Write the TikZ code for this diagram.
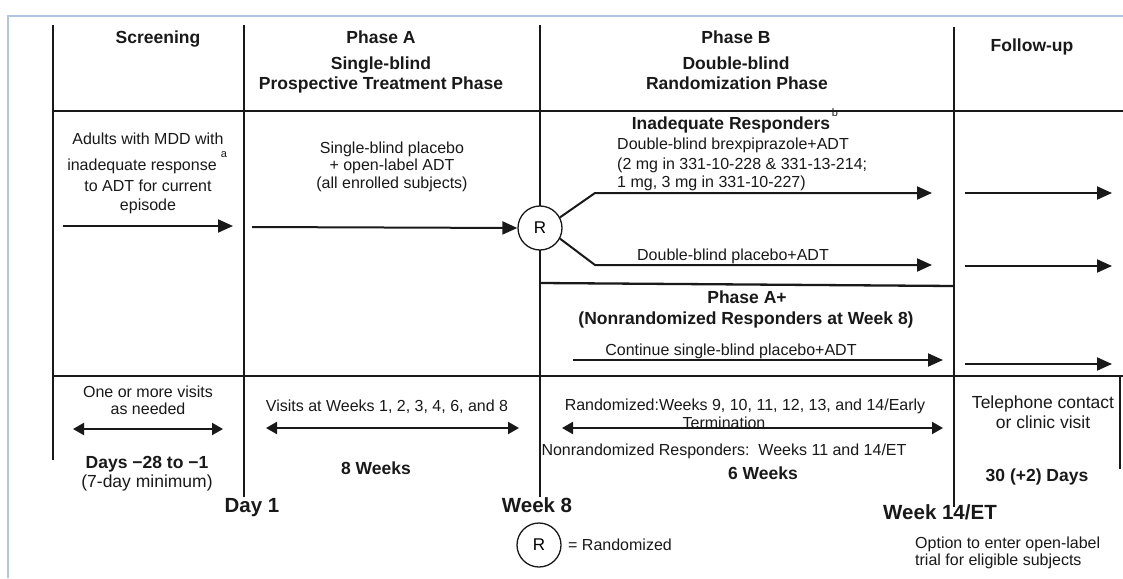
\documentclass[tikz,border=0pt]{standalone}
\usepackage{fontspec}
\setmainfont{Liberation Sans}
\usetikzlibrary{arrows.meta}
\definecolor{frameblue}{RGB}{175,198,228}
\definecolor{ink}{RGB}{25,25,25}
\begin{document}
\begin{tikzpicture}[x=1pt,y=-1pt,
  grid/.style={line width=2.3pt, ink},
  flow/.style={line width=2pt, ink, -{Triangle[length=15pt,width=13pt]}},
  span/.style={line width=2pt, ink, {Triangle[length=11pt,width=12pt]}-{Triangle[length=11pt,width=12pt]}},
  hb/.style={font=\fontsize{17.5}{20}\selectfont\bfseries, inner sep=0pt, anchor=base, text=ink},
  tx/.style={font=\fontsize{16}{19}\selectfont, inner sep=0pt, anchor=base, text=ink},
  tl/.style={font=\fontsize{17.5}{20}\selectfont, inner sep=0pt, anchor=base, text=ink},
  big/.style={font=\fontsize{20.5}{24}\selectfont\bfseries, inner sep=0pt, anchor=base, text=ink},
  sup/.style={font=\fontsize{11}{12}\selectfont, inner sep=0pt, text=ink},
  rc/.style={circle, draw=ink, line width=1.3pt, fill=white, minimum size=44pt, inner sep=0pt, font=\fontsize{17}{19}\selectfont},
]
\useasboundingbox (0,0) rectangle (1123,578);
\fill[white] (0,0) rectangle (1123,578);
\draw[frameblue, line width=2pt] (8,578) -- (8,16) -- (1123,16);

% grid coordinates
\coordinate (v1t) at (53,25);  \coordinate (v1b) at (53,460);
\coordinate (v2t) at (244,25); \coordinate (v2b) at (244,497);
\coordinate (v3t) at (540,25); \coordinate (v3b) at (540,497);
\coordinate (v4t) at (954,27); \coordinate (v4b) at (954,507);
\coordinate (h1l) at (53,111); \coordinate (h1r) at (1123,111);
\coordinate (h2l) at (53,376); \coordinate (h2r) at (1123,376);
\coordinate (h3l) at (540,283); \coordinate (h3r) at (954,286);
\coordinate (v5t) at (1120,377); \coordinate (v5b) at (1120,469);

\draw[grid] (v1t) -- (v1b);
\draw[grid] (v2t) -- (v2b);
\draw[grid] (v3t) -- (v3b);
\draw[grid] (v4t) -- (v4b);
\draw[grid] (h1l) -- (h1r);
\draw[grid] (h2l) -- (h2r);
\draw[grid] (h3l) -- (h3r);
\draw[grid] (v5t) -- (v5b);

% header
\node[hb] (hs) at (158,44) {Screening};
\node[hb] (ha1) at (381,44) {Phase A};
\node[hb] (ha2) at (381,69) {Single-blind};
\node[hb] (ha3) at (381,89) {Prospective Treatment Phase};
\node[hb] (hbb1) at (736,44) {Phase B};
\node[hb] (hbb2) at (736,69) {Double-blind};
\node[hb] (hbb3) at (737,89) {Randomization Phase};
\node[hb] (hf) at (1032,52) {Follow-up};

% screening column
\node[tx] (s1) at (148,144) {Adults with MDD with};
\node[tx] (s2) at (142,170) {inadequate response};
\node[sup] (sa) at (224,155) {a};
\node[tx] (s3) at (148,191) {to ADT for current};
\node[tx] (s4) at (148,210) {episode};

% phase A column
\node[tx] (a1) at (392,153) {Single-blind placebo};
\node[tx] (a2) at (392,170) {+ open-label ADT};
\node[tx] (a3) at (392,188) {(all enrolled subjects)};

% randomization node
\node[rc] (R) at (540,228) {R};

% flows
\coordinate (f1s) at (63,226);  \coordinate (f1e) at (233,226);
\coordinate (f2s) at (252,227);
\draw[flow] (f1s) -- (f1e);
\draw[flow] (f2s) -- (R.west);

% phase B
\node[hb] (ir) at (731,129) {Inadequate Responders};
\node[sup] (sb) at (835,113) {b};
\node[tx, anchor=base west] (b1) at (617,149) {Double-blind brexpiprazole+ADT};
\node[tx, anchor=base west] (b2) at (617,169) {(2 mg in 331-10-228 \& 331-13-214;};
\node[tx, anchor=base west] (b3) at (617,187) {1 mg, 3 mg in 331-10-227)};
\coordinate (ku) at (595,193); \coordinate (eu) at (932,193);
\coordinate (kl) at (595,265); \coordinate (el) at (932,265);
\draw[flow] (R.28) -- (ku) -- (eu);
\draw[flow] (R.-28) -- (kl) -- (el);
\node[tx] (pl) at (733,260) {Double-blind placebo+ADT};

% phase A+
\node[hb] (ap1) at (747,303) {Phase A+};
\node[hb] (ap2) at (746,324) {(Nonrandomized Responders at Week 8)};
\node[tx] (ct) at (731,355) {Continue single-blind placebo+ADT};
\coordinate (cs) at (573,360); \coordinate (ce) at (943,360);
\draw[flow] (cs) -- (ce);

% follow-up arrows
\coordinate (u1s) at (965,193); \coordinate (u1e) at (1112,193);
\coordinate (u2s) at (965,266); \coordinate (u2e) at (1112,266);
\coordinate (u3s) at (965,364); \coordinate (u3e) at (1112,364);
\draw[flow] (u1s) -- (u1e);
\draw[flow] (u2s) -- (u2e);
\draw[flow] (u3s) -- (u3e);

% bottom row
\node[tx] (o1) at (148,397) {One or more visits};
\node[tx] (o2) at (148,414) {as needed};
\coordinate (p1s) at (73,429); \coordinate (p1e) at (223,429);
\draw[span] (p1s) -- (p1e);
\node[hb] (d1) at (147,468) {Days \textminus28 to \textminus1};
\node[tl] (d2) at (147,487) {(7-day minimum)};

\node[tx] (w1) at (387,411) {Visits at Weeks 1, 2, 3, 4, 6, and 8};
\coordinate (p2s) at (266,428); \coordinate (p2e) at (519,428);
\draw[span] (p2s) -- (p2e);
\node[hb] (w2) at (376,474) {8 Weeks};

\node[tx] (r1) at (745,410) {Randomized:Weeks 9, 10, 11, 12, 13, and 14/Early};
\node[tx] (r2) at (724,428) {Termination};
\coordinate (p3s) at (562,428); \coordinate (p3e) at (943,428);
\draw[span] (p3s) -- (p3e);
\node[tx] (r3) at (724,455) {Nonrandomized Responders:\ \ Weeks 11 and 14/ET};
\node[hb] (r4) at (763,479) {6 Weeks};

\node[tl] (t1) at (1043,408) {Telephone contact};
\node[tl] (t2) at (1043,428) {or clinic visit};
\node[hb] (t3) at (1037,481) {30 (+2) Days};

% milestones
\node[big] (m1) at (252,512) {Day 1};
\node[big] (m2) at (537,512) {Week 8};
\node[big] (m3) at (940,519) {Week 14/ET};

% legend and note
\node[rc] (leg) at (539,545) {R};
\node[tx, anchor=base west] (lg) at (568,550) {= Randomized};
\node[tx, anchor=base west] (n1) at (915,548) {Option to enter open-label};
\node[tx, anchor=base west] (n2) at (915,565) {trial for eligible subjects};
\end{tikzpicture}
\end{document}
